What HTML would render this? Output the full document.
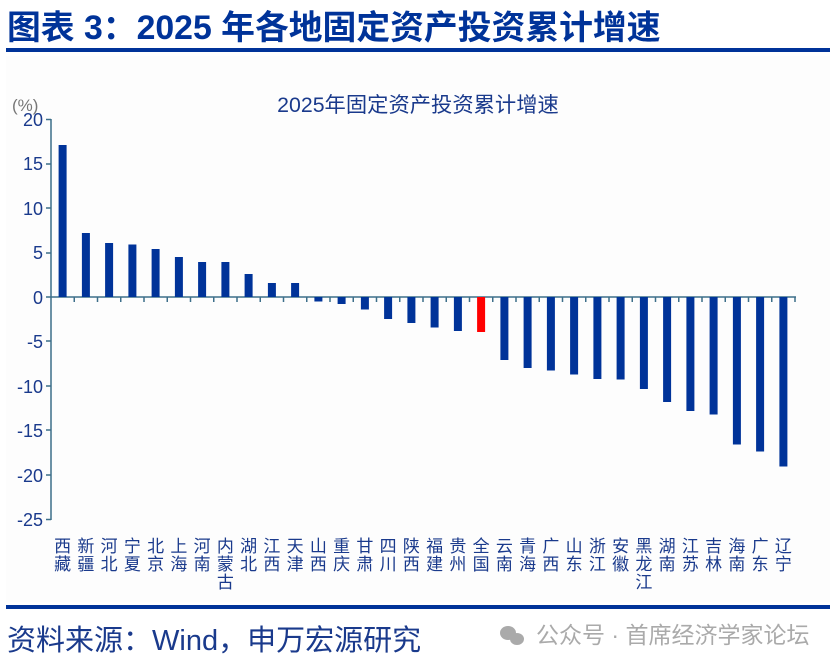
<!DOCTYPE html>
<html><head><meta charset="utf-8"><style>
body{margin:0;background:#fff;width:835px;height:668px;overflow:hidden}
svg{display:block;font-family:"Liberation Sans","Noto Sans CJK SC",sans-serif}
</style></head><body>
<svg width="835" height="668" viewBox="0 0 835 668">
<rect width="835" height="668" fill="#fff"/>
<text x="7" y="39" font-size="33.8" font-weight="bold" fill="#003399">图表 3：2025 年各地固定资产投资累计增速</text>
<rect x="6" y="48" width="824" height="4" fill="#003399"/>
<rect x="6" y="56" width="824" height="546" fill="#fdfdfd"/>
<text x="418" y="112" font-size="21.3" fill="#1a3a8c" text-anchor="middle">2025年固定资产投资累计增速</text>
<text x="12" y="111" font-size="17" fill="#777">(%)</text>
<g font-size="18" fill="#1a3a8c" text-anchor="end">
<text x="43" y="126">20</text><text x="43" y="170">15</text><text x="43" y="215">10</text><text x="43" y="259">5</text><text x="43" y="304">0</text><text x="43" y="348">-5</text><text x="43" y="393">-10</text><text x="43" y="437">-15</text><text x="43" y="482">-20</text><text x="43" y="526">-25</text>
</g>
<g stroke="#3d6f8a" stroke-width="1.5" fill="none">
<line x1="51" y1="119" x2="51" y2="520"/>
<path d="M46 119.5H51M46 164H51M46 208H51M46 253H51M46 341H51M46 386H51M46 430H51M46 475H51M46 519.5H51"/>
<line x1="46" y1="297" x2="796" y2="297"/>
<path d="M74.25 297v5M97.5 297v5M120.75 297v5M144 297v5M167.25 297v5M190.5 297v5M213.75 297v5M237 297v5M260.25 297v5M283.5 297v5M306.75 297v5M330 297v5M353.25 297v5M376.5 297v5M399.75 297v5M423 297v5M446.25 297v5M469.5 297v5M492.75 297v5M516 297v5M539.25 297v5M562.5 297v5M585.75 297v5M609 297v5M632.25 297v5M655.5 297v5M678.75 297v5M702 297v5M725.25 297v5M748.5 297v5M771.75 297v5M795 297v5"/>
</g>
<g fill="#003399">
<rect x="58.6" y="145" width="8" height="152"/>
<rect x="81.9" y="233" width="8" height="64"/>
<rect x="105.1" y="243" width="8" height="54"/>
<rect x="128.4" y="244.5" width="8" height="52.5"/>
<rect x="151.6" y="249" width="8" height="48"/>
<rect x="174.9" y="257" width="8" height="40"/>
<rect x="198.1" y="262" width="8" height="35"/>
<rect x="221.4" y="262" width="8" height="35"/>
<rect x="244.6" y="274" width="8" height="23"/>
<rect x="267.9" y="283" width="8" height="14"/>
<rect x="291.1" y="283" width="8" height="14"/>
<rect x="314.4" y="297" width="8" height="4.5"/>
<rect x="337.6" y="297" width="8" height="7"/>
<rect x="360.9" y="297" width="8" height="12.5"/>
<rect x="384.1" y="297" width="8" height="22"/>
<rect x="407.4" y="297" width="8" height="26"/>
<rect x="430.6" y="297" width="8" height="30.5"/>
<rect x="453.9" y="297" width="8" height="34"/>
<rect x="477.1" y="297" width="8" height="35" fill="#ff0000"/>
<rect x="500.4" y="297" width="8" height="63"/>
<rect x="523.6" y="297" width="8" height="71"/>
<rect x="546.9" y="297" width="8" height="73.5"/>
<rect x="570.1" y="297" width="8" height="77.5"/>
<rect x="593.4" y="297" width="8" height="82"/>
<rect x="616.6" y="297" width="8" height="82.5"/>
<rect x="639.9" y="297" width="8" height="92"/>
<rect x="663.1" y="297" width="8" height="105"/>
<rect x="686.4" y="297" width="8" height="114"/>
<rect x="709.6" y="297" width="8" height="117.5"/>
<rect x="732.9" y="297" width="8" height="147.5"/>
<rect x="756.1" y="297" width="8" height="154.5"/>
<rect x="779.4" y="297" width="8" height="169.5"/>
</g>
<g font-size="17" fill="#1a3a8c" text-anchor="middle">
<text x="62.6" y="552">西</text><text x="62.6" y="570">藏</text>
<text x="85.9" y="552">新</text><text x="85.9" y="570">疆</text>
<text x="109.1" y="552">河</text><text x="109.1" y="570">北</text>
<text x="132.4" y="552">宁</text><text x="132.4" y="570">夏</text>
<text x="155.6" y="552">北</text><text x="155.6" y="570">京</text>
<text x="178.9" y="552">上</text><text x="178.9" y="570">海</text>
<text x="202.1" y="552">河</text><text x="202.1" y="570">南</text>
<text x="225.4" y="552">内</text><text x="225.4" y="570">蒙</text><text x="225.4" y="588">古</text>
<text x="248.6" y="552">湖</text><text x="248.6" y="570">北</text>
<text x="271.9" y="552">江</text><text x="271.9" y="570">西</text>
<text x="295.1" y="552">天</text><text x="295.1" y="570">津</text>
<text x="318.4" y="552">山</text><text x="318.4" y="570">西</text>
<text x="341.6" y="552">重</text><text x="341.6" y="570">庆</text>
<text x="364.9" y="552">甘</text><text x="364.9" y="570">肃</text>
<text x="388.1" y="552">四</text><text x="388.1" y="570">川</text>
<text x="411.4" y="552">陕</text><text x="411.4" y="570">西</text>
<text x="434.6" y="552">福</text><text x="434.6" y="570">建</text>
<text x="457.9" y="552">贵</text><text x="457.9" y="570">州</text>
<text x="481.1" y="552">全</text><text x="481.1" y="570">国</text>
<text x="504.4" y="552">云</text><text x="504.4" y="570">南</text>
<text x="527.6" y="552">青</text><text x="527.6" y="570">海</text>
<text x="550.9" y="552">广</text><text x="550.9" y="570">西</text>
<text x="574.1" y="552">山</text><text x="574.1" y="570">东</text>
<text x="597.4" y="552">浙</text><text x="597.4" y="570">江</text>
<text x="620.6" y="552">安</text><text x="620.6" y="570">徽</text>
<text x="643.9" y="552">黑</text><text x="643.9" y="570">龙</text><text x="643.9" y="588">江</text>
<text x="667.1" y="552">湖</text><text x="667.1" y="570">南</text>
<text x="690.4" y="552">江</text><text x="690.4" y="570">苏</text>
<text x="713.6" y="552">吉</text><text x="713.6" y="570">林</text>
<text x="736.9" y="552">海</text><text x="736.9" y="570">南</text>
<text x="760.1" y="552">广</text><text x="760.1" y="570">东</text>
<text x="783.4" y="552">辽</text><text x="783.4" y="570">宁</text>
</g>
<rect x="6" y="605" width="824" height="4" fill="#003399"/>
<text x="7" y="650" font-size="29" fill="#1a3a8c">资料来源：Wind，申万宏源研究</text>
<g fill="#aaa">
<ellipse cx="508" cy="633" rx="8" ry="7"/><ellipse cx="517" cy="639" rx="7" ry="6"/>
</g>
<text x="536" y="643" font-size="23" fill="#aaa">公众号 · 首席经济学家论坛</text>
</svg>
</body></html>
